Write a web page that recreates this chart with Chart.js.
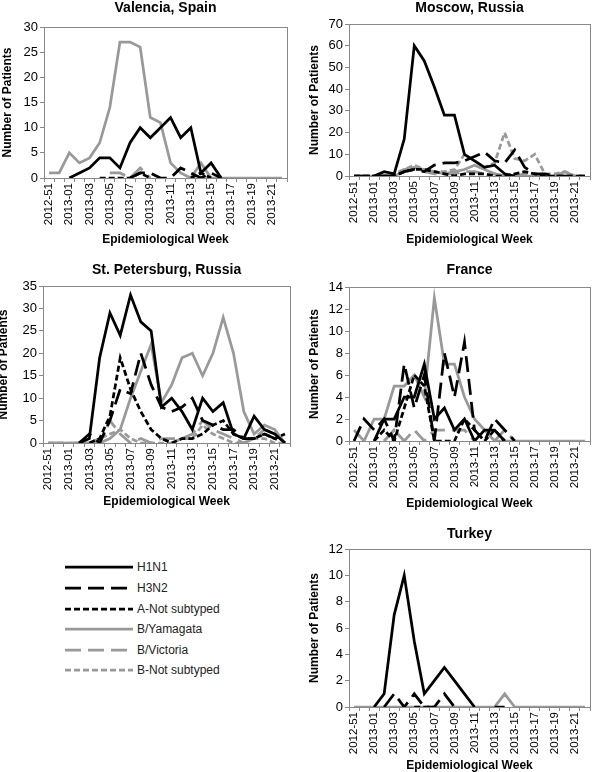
<!DOCTYPE html>
<html>
<head>
<meta charset="utf-8">
<title>Influenza types by epidemiological week</title>
<script src="https://cdn.jsdelivr.net/npm/chart.js@4.4.1/dist/chart.umd.min.js"></script>
<style>
  html, body { margin: 0; padding: 0; background: #fff; }
  body { width: 600px; height: 772px; position: relative; overflow: hidden;
         font-family: Arial, "Liberation Sans", sans-serif; }
  canvas { position: absolute; }
  #legend { position: absolute; left: 0; top: 550px; }
  #legend text { font: 12px Arial, "Liberation Sans", sans-serif; fill: #222; }
</style>
</head>
<body>
<canvas id="valencia" width="300" height="250" style="left:0;top:0"></canvas>
<canvas id="moscow" width="300" height="250" style="left:300px;top:0"></canvas>
<canvas id="stpete" width="300" height="255" style="left:0;top:255px"></canvas>
<canvas id="france" width="300" height="255" style="left:300px;top:255px"></canvas>
<canvas id="turkey" width="300" height="257" style="left:300px;top:515px"></canvas>
<svg id="legend" width="300" height="140"></svg>

<script>
'use strict';

/* ---------- data ---------- */
const weeks = ['2012-51', '2012-52', '2013-01', '2013-02', '2013-03', '2013-04', '2013-05', '2013-06',
  '2013-07', '2013-08', '2013-09', '2013-10', '2013-11', '2013-12', '2013-13', '2013-14',
  '2013-15', '2013-16', '2013-17', '2013-18', '2013-19', '2013-20', '2013-21', '2013-22'];

const seriesNames = ['H1N1', 'H3N2', 'A-Not subtyped', 'B/Yamagata', 'B/Victoria', 'B-Not subtyped'];

const _ = null; // no value that week

// Valencia, Spain
const valH1N1  = [_, _, 0, 1, 2, 4, 4, 2, 7, 10, 8, 10, 12, 8, 10, 1, 3, 0, _, _, _, _, _, _];
const valH3N2  = [_, _, _, _, _, _, _, _, 0, 1, 1, 0, 0, 2, 1, 0, 1, 0, _, _, _, _, _, _];
const valANot  = [_, _, _, _, _, 0, 0, 0, 0, 1, 0, _, _, _, 0, 1, 0, _, _, _, _, _, _, _];
const valBYam  = [1, 1, 5, 3, 4, 7, 14, 27, 27, 26, 12, 11, 3, 1, 0, 3, 0, 0, 0, 0, 0, 0, 0, 0];
const valBVic  = [_, _, _, _, _, _, 1, 1, 0, 2, 0, _, _, _, _, _, _, _, _, _, _, _, _, _];
const valBNot  = [_, _, _, _, _, _, _, _, _, _, _, _, _, _, 0, 1, 0, _, _, _, _, _, _, _];

// Moscow, Russia
const mosH1N1  = [_, _, 0, 2, 1, 17, 60, 53, 41, 28, 28, 10, 7, 4, 5, 1, 0, _, _, _, _, _, _, _];
const mosH3N2  = [0, 0, 0, 0, 0, 2, 3, 2, 5, 6, 6, 7, 9, 11, 7, 6, 12, 4, 1, 1, 0, 0, 0, 0];
const mosANot  = [0, 0, 0, 0, 0, 2, 3, 3, 2, 1, 0, 1, 1, 1, 0, 0, 1, 2, 1, 0, 0, 0, 0, 0];
const mosBYam  = [0, 0, 0, 0, 0, 2, 4, 3, 2, 1, 2, 3, 5, 3, 1, 0, 0, 0, 0, 0, 0, 0, 0, 0];
const mosBVic  = [0, 0, 0, 0, 1, 3, 4, 2, 1, 1, 1, 2, 2, 1, 1, 0, 0, 1, 0, 0, 0, 2, 0, 0];
const mosBNot  = [0, 0, 0, 0, 1, 3, 5, 3, 2, 2, 3, 10, 7, 4, 6, 20, 8, 7, 10, 1, 1, 2, 0, 0];

// St. Petersburg, Russia
const spbH1N1  = [_, _, _, 0, 1, 19, 29, 24, 33, 27, 25, 8, 10, 7, 3, 10, 7, 9, 2, 1, 6, 3, 2, 0];
const spbH3N2  = [_, _, _, 0, 2, 0, 5, 12, 11, 20, 13, 8, 7, 8, 10, 5, 4, 3, 3, 1, 1, 2, 1, 0];
const spbANot  = [_, _, _, _, 0, 1, 6, 19, 12, 7, 3, 1, 0, 1, 1, 2, 4, 5, 2, 1, 1, 2, 1, 2];
const spbBYam  = [0, 0, 0, 0, 0, 0, 1, 3, 10, 16, 22, 9, 13, 19, 20, 15, 20, 28, 20, 7, 2, 4, 3, 0];
const spbBVic  = [0, 0, 0, 0, 0, 0, 5, 2, 0, 1, 0, 1, 1, 1, 2, 5, 3, 2, 1, 0, 1, 3, 2, 0];
const spbBNot  = [0, 0, 0, 0, 0, 1, 2, 3, 1, 0, 0, 0, 0, 1, 1, 4, 2, 1, 0, 0, 1, 1, 0, 0];

// France
const fraH1N1  = [_, _, 0, 2, 2, 4, 4, 7, 2, 3, 1, 2, 0, 1, 1, 0, _, _, _, _, _, _, _, _];
const fraH3N2  = [0, 2, 1, 2, 0, 7, 3, 6, 0, 8, 4, 9, 1, 0, 2, 1, 0, _, _, _, _, _, _, _];
const fraANot  = [_, _, 0, 1, 0, 3, 6, 5, 0, 0, 0, 2, 1, 0, 1, 0, _, _, _, _, _, _, _, _];
const fraBYam  = [1, 0, 2, 2, 5, 5, 6, 4, 13, 7, 7, 4, 2, 1, 0, 0, 0, 0, 0, 0, 0, 0, 0, 0];
const fraBVic  = [_, _, _, 0, 1, 0, 1, 0, 1, 1, 1, 1, 0, _, 0, 1, 0, _, _, _, _, _, _, _];
const fraBNot  = [_, _, _, 0, 1, 0, _, _, _, _, _, _, _, _, _, _, _, _, _, _, _, _, _, _];

// Turkey
const turH1N1  = [_, _, 0, 1, 7, 10, 5, 1, 2, 3, 2, 1, 0, _, 0, 0, _, _, _, _, _, _, _, _];
const turH3N2  = [_, _, _, 0, 1, 0, 1, 0, 0, 1, 0, _, _, _, _, _, _, _, _, _, _, _, _, _];
const turANot  = [_, _, _, _, _, _, 0, 0, 0, _, _, _, _, _, _, _, _, _, _, _, _, _, _, _];
const turBYam  = [0, 0, 0, 0, 0, 0, 0, 0, 0, 0, 0, 0, 0, 0, 0, 1, 0, 0, 0, 0, 0, 0, 0, 0];
const turBVic  = [_, _, _, _, _, _, _, _, _, _, _, _, _, _, _, _, _, _, _, _, _, _, _, _];
const turBNot  = [_, _, _, _, _, _, _, _, _, _, _, _, _, _, _, _, _, _, _, _, _, _, _, _];

/* ---------- styling ---------- */
const FONT   = 'Arial, "Liberation Sans", sans-serif';
const AXIS   = '#888888';
const GREY   = '#999999';
const LONG   = [16, 7];
const SHORT  = [6, 3];

const seriesStyle = [
  { color: '#000', dash: [] },
  { color: '#000', dash: LONG },
  { color: '#000', dash: SHORT },
  { color: GREY,   dash: [] },
  { color: GREY,   dash: LONG },
  { color: GREY,   dash: SHORT },
];

// plot box geometry per panel (canvas-relative)
const panels = [
  { id: 'valencia', title: 'Valencia, Spain', yMax: 30, step: 5,
    series: [valH1N1, valH3N2, valANot, valBYam, valBVic, valBNot],
    yWidth: 44, padRight: 13, titleTop: 1, titleBottom: 12, xHeight: 72, yTitlePad: 2, xTitlePad: 4 },
  { id: 'moscow', title: 'Moscow, Russia', yMax: 70, step: 10,
    series: [mosH1N1, mosH3N2, mosANot, mosBYam, mosBVic, mosBNot],
    yWidth: 49, padRight: 5, titleTop: 1, titleBottom: 9, xHeight: 74, yTitlePad: 9, xTitlePad: 4 },
  { id: 'stpete', title: 'St. Petersburg, Russia', yMax: 35, step: 5,
    series: [spbH1N1, spbH3N2, spbANot, spbBYam, spbBVic, spbBNot],
    yWidth: 43, padRight: 7, titleTop: 8, titleBottom: 9, xHeight: 67, yTitlePad: -2, xTitlePad: 2 },
  { id: 'france', title: 'France', yMax: 14, step: 2,
    series: [fraH1N1, fraH3N2, fraANot, fraBYam, fraBVic, fraBNot],
    yWidth: 49, padRight: 5, titleTop: 8, titleBottom: 10, xHeight: 69, yTitlePad: 9, xTitlePad: 0 },
  { id: 'turkey', title: 'Turkey', yMax: 12, step: 2,
    series: [turH1N1, turH3N2, turANot, turBYam, turBVic, turBNot],
    yWidth: 49, padRight: 5, titleTop: 12, titleBottom: 8, xHeight: 65, yTitlePad: 9, xTitlePad: 0 },
];

// grey frame round the plot area (Excel style)
const plotFrame = {
  id: 'plotFrame',
  beforeDatasetsDraw(chart) {
    const { ctx, chartArea: a } = chart;
    ctx.save();
    ctx.strokeStyle = AXIS;
    ctx.lineWidth = 1;
    ctx.strokeRect(Math.round(a.left) + 0.5, Math.round(a.top) + 0.5,
                   Math.round(a.width), Math.round(a.height));
    ctx.restore();
  }
};

/* ---------- charts ---------- */
panels.forEach(p => {
  new Chart(document.getElementById(p.id), {
    type: 'line',
    data: {
      labels: weeks,
      datasets: p.series.map((values, i) => ({
        label: seriesNames[i],
        data: values,
        borderColor: seriesStyle[i].color,
        borderDash: seriesStyle[i].dash,
        borderWidth: 2.75,
        pointRadius: 0,
        tension: 0,
        fill: false,
        spanGaps: false,
      })),
    },
    options: {
      responsive: false,
      devicePixelRatio: 1,
      animation: false,
      layout: { padding: { left: 0, top: 0, bottom: 0, right: p.padRight } },
      plugins: {
        legend: { display: false },
        tooltip: { enabled: false },
        title: {
          display: true,
          text: p.title,
          fullSize: false,
          color: '#000',
          font: { family: FONT, size: 14, weight: 'bold', lineHeight: 1 },
          padding: { top: p.titleTop, bottom: p.titleBottom },
        },
      },
      scales: {
        x: {
          type: 'category',
          offset: true,
          grid: { offset: true, drawOnChartArea: false, drawTicks: true, tickLength: 4, color: AXIS },
          border: { color: AXIS, width: 1 },
          ticks: {
            autoSkip: false, minRotation: 90, maxRotation: 90, padding: 1,
            color: '#000', font: { family: FONT, size: 11.5 },
            callback: (v, i) => (i % 2 === 0 ? weeks[i] : ''),
          },
          title: {
            display: true, text: 'Epidemiological Week', color: '#000',
            font: { family: FONT, size: 12, weight: 'bold', lineHeight: 1 },
            padding: { top: 0, bottom: p.xTitlePad },
          },
          afterFit: s => { s.height = p.xHeight; },
        },
        y: {
          min: 0, max: p.yMax,
          grid: { drawOnChartArea: false, drawTicks: true, tickLength: 4, color: AXIS },
          border: { color: AXIS, width: 1 },
          ticks: { stepSize: p.step, padding: 2, color: '#000', font: { family: FONT, size: 13 } },
          title: {
            display: true, text: 'Number of Patients', color: '#000',
            font: { family: FONT, size: 12, weight: 'bold', lineHeight: 1 },
            padding: { top: p.yTitlePad, bottom: 0 },
          },
          afterFit: s => { s.width = p.yWidth; },
        },
      },
    },
    plugins: [plotFrame],
  });
});

/* ---------- shared legend ---------- */
(function buildLegend() {
  const svg = document.getElementById('legend');
  const NS = 'http://www.w3.org/2000/svg';
  const rowY = [17, 38, 59, 79, 100, 120];
  seriesNames.forEach((name, i) => {
    const line = document.createElementNS(NS, 'line');
    line.setAttribute('x1', 65);
    line.setAttribute('x2', 133);
    line.setAttribute('y1', rowY[i]);
    line.setAttribute('y2', rowY[i]);
    line.setAttribute('stroke', seriesStyle[i].color);
    line.setAttribute('stroke-width', 2.75);
    if (seriesStyle[i].dash.length) line.setAttribute('stroke-dasharray', seriesStyle[i].dash.join(' '));
    svg.appendChild(line);

    const text = document.createElementNS(NS, 'text');
    text.setAttribute('x', 137);
    text.setAttribute('y', rowY[i] + 4);
    text.textContent = name;
    svg.appendChild(text);
  });
})();
</script>
</body>
</html>
